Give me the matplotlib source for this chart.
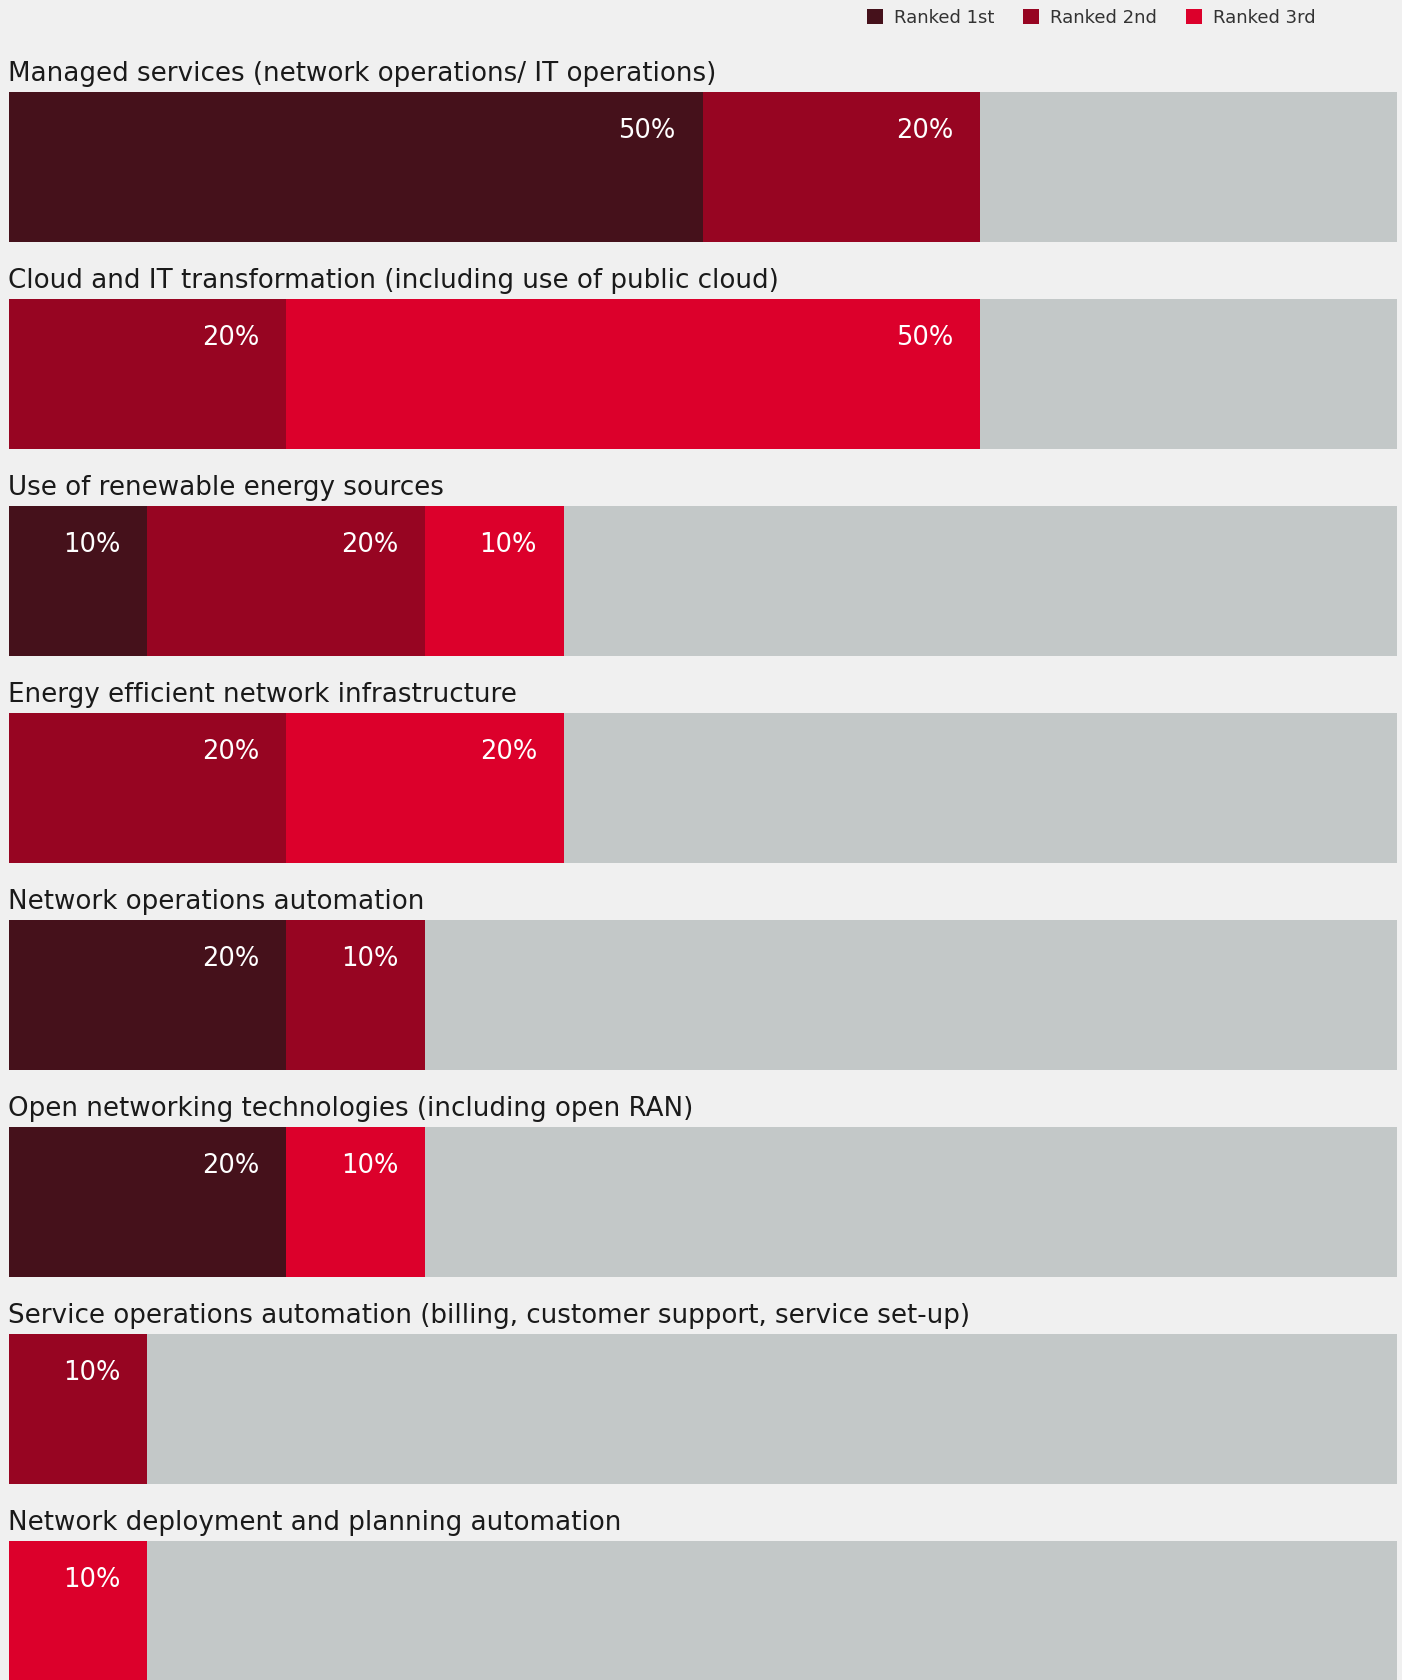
import numpy as np
import matplotlib.pyplot as plt
from matplotlib.patches import Patch

categories = [
    "Managed services (network operations/ IT operations)",
    "Cloud and IT transformation (including use of public cloud)",
    "Use of renewable energy sources",
    "Energy efficient network infrastructure",
    "Network operations automation",
    "Open networking technologies (including open RAN)",
    "Service operations automation (billing, customer support, service set-up)",
    "Network deployment and planning automation",
]
ranked_1st = [50, 0, 10, 0, 20, 20, 0, 0]
ranked_2nd = [20, 20, 20, 20, 10, 0, 10, 0]
ranked_3rd = [0, 50, 10, 20, 0, 10, 0, 10]
series_names = ["Ranked 1st", "Ranked 2nd", "Ranked 3rd"]

colors = ["#45111b", "#970522", "#dc002b"]
gray = "#c3c8c8"
bg = "#f0f0f0"
text_col = "#1a1a1a"

plt.rcParams['font.family'] = ['DejaVu Sans']

W, H = 1402, 1680
fig = plt.figure(figsize=(W / 100, H / 100), dpi=100, facecolor=bg)

# layout in pixels
left_px, right_px = 8.5, 1397
row_px, bar_px, first_center = 207, 150, 167
ax = fig.add_axes([left_px / W, 0, (right_px - left_px) / W, 1])
ax.set_facecolor(bg)
ax.set_xlim(0, 100)
ax.set_ylim((H - first_center) / row_px, -first_center / row_px)
ax.axis('off')

y = np.arange(len(categories))
h = bar_px / row_px
series = [ranked_1st, ranked_2nd, ranked_3rd]

# gray background track, then stacked segments
ax.barh(y, 100, height=h, color=gray, linewidth=0)
left = np.zeros(len(categories))
for vals, c in zip(series, colors):
    vals = np.array(vals, dtype=float)
    ax.barh(y, vals, left=left, height=h, color=c, linewidth=0)
    for i, v in enumerate(vals):
        if v > 0:
            ax.annotate(f"{v:.0f}%", xy=(left[i] + v, i - 0.175),
                        xytext=(-27, 0), textcoords='offset pixels',
                        ha='right', va='center', color='white',
                        fontsize=18.5)
    left += vals

for i, cat in enumerate(categories):
    ax.text(0, i - 0.45, cat, ha='left', va='center', color=text_col,
            fontsize=18.8)

handles = [Patch(facecolor=c, edgecolor='none', label=n)
           for c, n in zip(colors, series_names)]
fig.legend(handles=handles, loc='upper right', ncol=3, frameon=False,
           bbox_to_anchor=(1323 / W, 1 - 2 / H), borderaxespad=0,
           fontsize=13, handlelength=0.9, handleheight=0.9,
           handletextpad=0.6, columnspacing=1.6, labelcolor='#333333')

fig.savefig("out.png", dpi=100, facecolor=bg)
